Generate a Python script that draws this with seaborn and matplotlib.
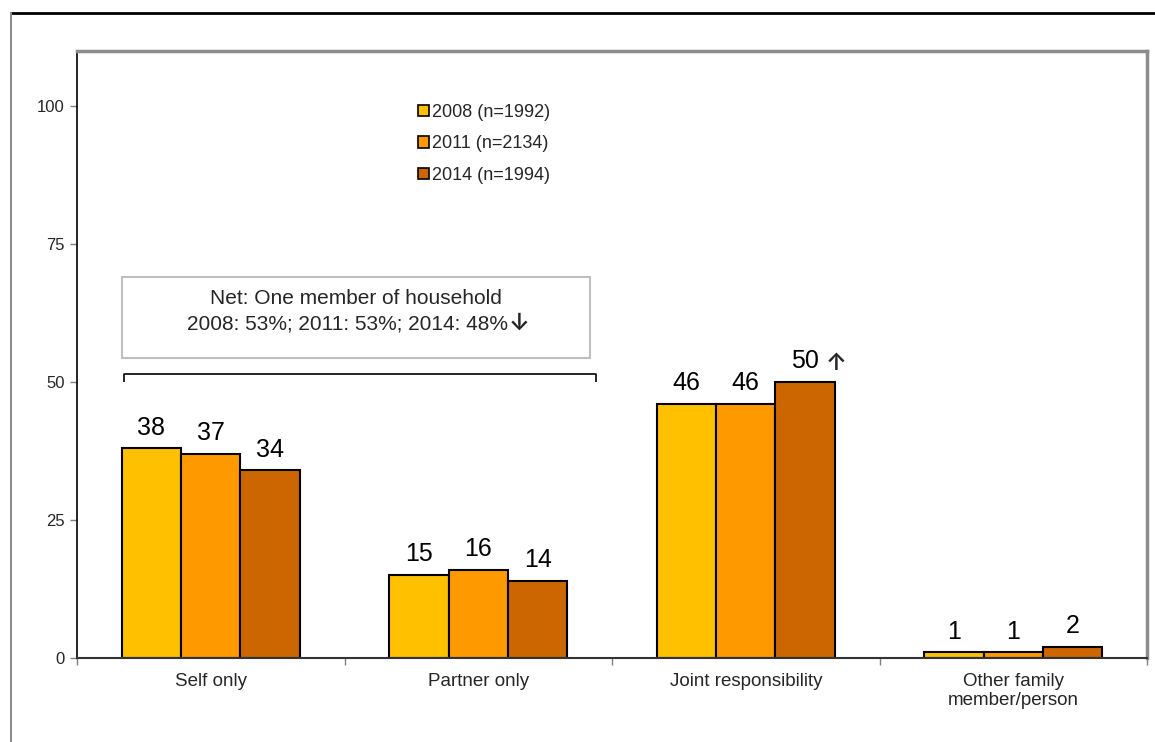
import matplotlib
matplotlib.use("Agg")
import matplotlib.pyplot as plt
from matplotlib.patches import Rectangle
from matplotlib.lines import Line2D
import seaborn as sns
import pandas as pd

# Survey results (% of respondents)
categories = ["Self only", "Partner only", "Joint responsibility",
              "Other family\nmember/person"]
waves = ["2008 (n=1992)", "2011 (n=2134)", "2014 (n=1994)"]
values_2008 = [38, 15, 46, 1]
values_2011 = [37, 16, 46, 1]
values_2014 = [34, 14, 50, 2]
wave_colors = ["#FFC000", "#FF9900", "#CC6600"]
y_ticks = [0, 25, 50, 75, 100]
net_title = "Net: One member of household"
net_values = "2008: 53%; 2011: 53%; 2014: 48%"
net_change = "\u2193"
change_marks = {("Joint responsibility", "2014 (n=1994)"): "\u2191"}

sns.set_theme(style="white")
plt.rcParams["font.family"] = ["Liberation Sans", "DejaVu Sans"]

rows = []
for wave, vals in zip(waves, [values_2008, values_2011, values_2014]):
    for cat, v in zip(categories, vals):
        rows.append({"category": cat, "wave": wave, "value": v})
df = pd.DataFrame(rows)

fig = plt.figure(figsize=(11.55, 7.42), dpi=100)
ax = fig.add_axes([77 / 1155, 1 - 658 / 742, (1147 - 77) / 1155, (658 - 51) / 742])

sns.barplot(data=df, x="category", y="value", hue="wave", order=categories,
            hue_order=waves, palette=wave_colors, width=0.667, gap=0,
            edgecolor="black", linewidth=1.5, saturation=1, ax=ax, legend=True)

arrow_font = dict(family=["Inter", "DejaVu Sans"], fontsize=17,
                  fontweight="semibold")

# value labels above each bar, with a change arrow where significant
for container, wave in zip(ax.containers, waves):
    for bar, cat in zip(container, categories):
        h = bar.get_height()
        t = ax.text(bar.get_x() + bar.get_width() / 2, h + 2.5, f"{h:.0f}",
                    ha="center", va="baseline", fontsize=18, color="black")
        mark = change_marks.get((cat, wave))
        if mark:
            ax.annotate(mark, xy=(1, 0), xycoords=t, xytext=(5, -1),
                        textcoords="offset points", ha="left", va="bottom",
                        **arrow_font)

ax.set_xlim(-0.5, 3.5)
ax.set_ylim(0, 110)
ax.set_yticks(y_ticks)
ax.set_xlabel("")
ax.set_ylabel("")
ax.tick_params(axis="y", labelsize=12, length=5, width=1, color="#808080",
               left=True, pad=4)
ax.tick_params(axis="x", which="major", labelsize=13.5, length=0, pad=11)
ax.set_xticks([-0.5, 0.5, 1.5, 2.5, 3.5], minor=True)
ax.tick_params(axis="x", which="minor", length=5, width=1, color="#808080",
               bottom=True)
for lab in ax.get_xticklabels():
    lab.set_linespacing(1.15)

for side in ["top", "right"]:
    ax.spines[side].set_color("#8c8c8c")
    ax.spines[side].set_linewidth(2.5)
ax.spines["left"].set_color("black")
ax.spines["left"].set_linewidth(1.2)
ax.spines["bottom"].set_color("#333333")
ax.spines["bottom"].set_linewidth(1.5)

# legend
leg = ax.legend(loc="upper left", bbox_to_anchor=(0.312, 0.925), frameon=False,
                fontsize=13, handlelength=0.6, handleheight=0.6,
                handletextpad=0.17, labelspacing=0.8, borderaxespad=0)
for h in leg.legend_handles:
    h.set_edgecolor("black")
    h.set_linewidth(1.2)

# annotation box summarising the net figure
ax.add_patch(Rectangle((-0.332, 54.4), 1.75, 14.6, facecolor="white",
                       edgecolor="#bfbfbf", linewidth=1.5, zorder=3))
ax.text(0.543, 65.2, net_title, ha="center", va="center", fontsize=15, zorder=4)
t2 = ax.text(0.513, 60.6, net_values, ha="center", va="center", fontsize=15,
             zorder=4)
ax.annotate(net_change, xy=(1, 0), xycoords=t2, xytext=(0, -1),
            textcoords="offset points", ha="left", va="bottom", zorder=4,
            **arrow_font)

# bracket grouping "Self only" and "Partner only"
ax.plot([-0.324, -0.324, 1.44, 1.44], [50.1, 51.4, 51.4, 50.1],
        color="black", linewidth=1.2, solid_capstyle="butt", zorder=4)

# outer frame
fig.add_artist(Line2D([11 / 1155, 1.0], [1 - 13 / 742] * 2, color="black",
                      linewidth=2, transform=fig.transFigure))
fig.add_artist(Line2D([11 / 1155] * 2, [0.0, 1 - 13 / 742], color="#8c8c8c",
                      linewidth=1.5, transform=fig.transFigure))

fig.savefig("out.png", dpi=100, facecolor="white")
